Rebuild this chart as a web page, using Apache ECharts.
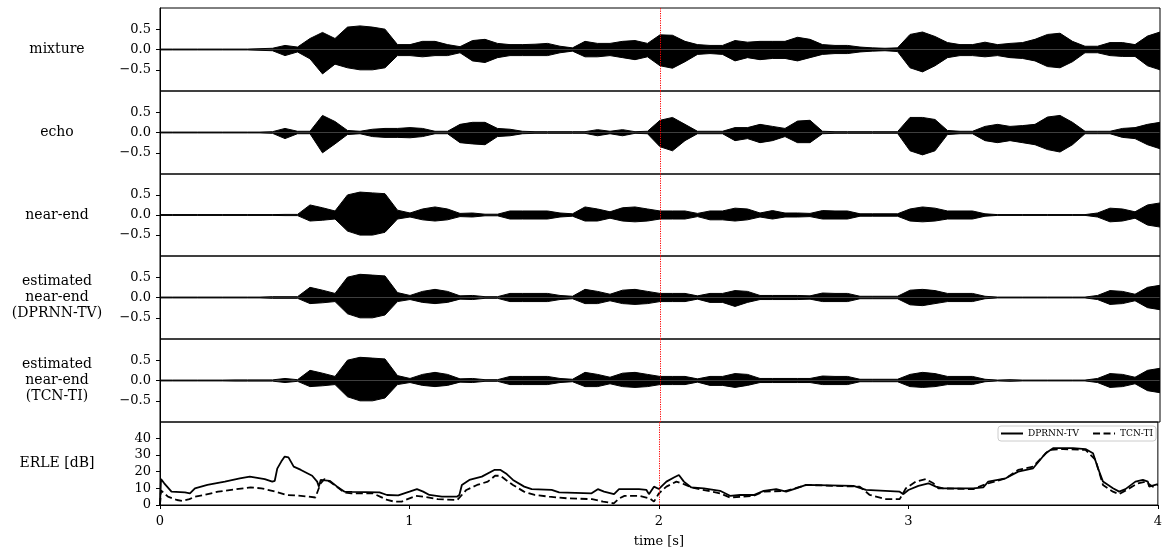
<!DOCTYPE html>
<html><head><meta charset="utf-8">
<script src="https://cdn.jsdelivr.net/npm/echarts@6/dist/echarts.min.js"></script>
<style>html,body{margin:0;padding:0;background:#fff}#c{width:1165px;height:551px}</style>
</head><body><div id="c"></div>
<script>
// envelope sample spacing [s]; envelopes at t = 0, 0.05, ..., 4.00
const DT = 0.05;
const panelLabels = ['mixture', 'echo', 'near-end', 'estimated\nnear-end\n(DPRNN-TV)', 'estimated\nnear-end\n(TCN-TI)', 'ERLE [dB]'];
const xTicks = [0, 1, 2, 3, 4];
const waveTicks = [-0.5, 0, 0.5];
const erleTicks = [0, 10, 20, 30, 40];
const markerTime = 2;

const mixTop = [0.01,0.01,0.01,0.01,0.01,0.01,0.01,0.01,0.02,0.03,0.1,0.06,0.27,0.42,0.27,0.55,0.58,0.55,0.5,0.12,0.12,0.2,0.2,0.12,0.07,0.22,0.25,0.15,0.12,0.12,0.13,0.15,0.08,0.04,0.2,0.15,0.15,0.2,0.22,0.15,0.36,0.35,0.2,0.12,0.1,0.1,0.22,0.18,0.2,0.2,0.2,0.3,0.25,0.12,0.1,0.1,0.06,0.04,0.03,0.04,0.37,0.43,0.32,0.17,0.12,0.12,0.18,0.12,0.15,0.17,0.25,0.37,0.4,0.2,0.08,0.08,0.17,0.17,0.12,0.33,0.43];
const mixBot = [-0.01,-0.01,-0.01,-0.01,-0.01,-0.01,-0.01,-0.01,-0.02,-0.03,-0.15,-0.06,-0.23,-0.6,-0.36,-0.45,-0.5,-0.5,-0.45,-0.15,-0.15,-0.18,-0.15,-0.15,-0.08,-0.28,-0.32,-0.2,-0.15,-0.15,-0.15,-0.15,-0.08,-0.04,-0.18,-0.18,-0.15,-0.2,-0.25,-0.18,-0.4,-0.46,-0.3,-0.12,-0.1,-0.12,-0.28,-0.2,-0.25,-0.22,-0.22,-0.28,-0.2,-0.12,-0.1,-0.1,-0.06,-0.04,-0.03,-0.05,-0.45,-0.55,-0.4,-0.2,-0.15,-0.15,-0.18,-0.15,-0.2,-0.22,-0.28,-0.42,-0.45,-0.3,-0.08,-0.08,-0.15,-0.17,-0.17,-0.4,-0.5];

const echoTop = [0.01,0.01,0.01,0.01,0.01,0.01,0.01,0.01,0.01,0.02,0.1,0.03,0.03,0.42,0.27,0.05,0.03,0.08,0.1,0.1,0.12,0.1,0.03,0.03,0.2,0.25,0.25,0.1,0.08,0.03,0.02,0.02,0.02,0.02,0.02,0.07,0.03,0.07,0.02,0.03,0.3,0.37,0.2,0.03,0.03,0.03,0.12,0.12,0.2,0.15,0.1,0.28,0.3,0.03,0.02,0.02,0.02,0.02,0.02,0.02,0.37,0.37,0.32,0.05,0.03,0.03,0.15,0.2,0.15,0.17,0.2,0.38,0.42,0.25,0.03,0.03,0.03,0.1,0.12,0.2,0.25];
const echoBot = [-0.01,-0.01,-0.01,-0.01,-0.01,-0.01,-0.01,-0.01,-0.01,-0.02,-0.15,-0.03,-0.03,-0.5,-0.28,-0.05,-0.03,-0.1,-0.12,-0.12,-0.13,-0.1,-0.03,-0.03,-0.25,-0.28,-0.3,-0.1,-0.08,-0.03,-0.02,-0.02,-0.02,-0.02,-0.02,-0.08,-0.03,-0.08,-0.02,-0.03,-0.35,-0.45,-0.2,-0.03,-0.03,-0.03,-0.2,-0.15,-0.25,-0.2,-0.1,-0.25,-0.25,-0.03,-0.02,-0.02,-0.02,-0.02,-0.02,-0.02,-0.45,-0.55,-0.45,-0.05,-0.03,-0.03,-0.2,-0.25,-0.2,-0.25,-0.3,-0.42,-0.48,-0.3,-0.03,-0.03,-0.03,-0.12,-0.15,-0.3,-0.4];

const nearTop = [0.01,0.01,0.01,0.01,0.01,0.01,0.01,0.01,0.01,0.01,0.015,0.015,0.25,0.18,0.1,0.5,0.57,0.55,0.53,0.12,0.05,0.15,0.2,0.15,0.04,0.05,0.02,0.02,0.1,0.1,0.1,0.1,0.05,0.03,0.2,0.15,0.08,0.18,0.2,0.15,0.1,0.1,0.1,0.04,0.1,0.1,0.17,0.15,0.05,0.11,0.05,0.05,0.04,0.11,0.1,0.1,0.03,0.03,0.03,0.03,0.15,0.2,0.17,0.1,0.1,0.1,0.03,0.01,0.01,0.01,0.01,0.01,0.01,0.01,0.01,0.05,0.17,0.15,0.08,0.25,0.3];
const nearBot = [-0.01,-0.01,-0.01,-0.01,-0.01,-0.01,-0.01,-0.01,-0.01,-0.01,-0.015,-0.015,-0.15,-0.13,-0.1,-0.4,-0.5,-0.5,-0.43,-0.1,-0.05,-0.12,-0.15,-0.12,-0.04,-0.05,-0.02,-0.02,-0.1,-0.1,-0.1,-0.1,-0.05,-0.03,-0.15,-0.15,-0.08,-0.15,-0.17,-0.15,-0.1,-0.1,-0.1,-0.04,-0.12,-0.12,-0.15,-0.12,-0.05,-0.1,-0.05,-0.05,-0.04,-0.1,-0.1,-0.1,-0.03,-0.03,-0.03,-0.03,-0.15,-0.17,-0.15,-0.1,-0.1,-0.1,-0.03,-0.01,-0.01,-0.01,-0.01,-0.01,-0.01,-0.01,-0.01,-0.05,-0.17,-0.15,-0.08,-0.25,-0.3];

const dprnnTop = [0.01,0.01,0.01,0.01,0.01,0.01,0.01,0.01,0.01,0.02,0.02,0.02,0.25,0.18,0.1,0.5,0.57,0.55,0.53,0.12,0.05,0.15,0.2,0.15,0.04,0.05,0.02,0.02,0.1,0.1,0.1,0.1,0.05,0.03,0.2,0.15,0.08,0.18,0.2,0.15,0.1,0.1,0.1,0.04,0.1,0.1,0.17,0.15,0.05,0.05,0.05,0.05,0.04,0.11,0.1,0.1,0.03,0.03,0.03,0.03,0.18,0.2,0.17,0.1,0.1,0.1,0.03,0.01,0.01,0.01,0.01,0.01,0.01,0.01,0.01,0.05,0.17,0.15,0.08,0.25,0.3];
const dprnnBot = [-0.01,-0.01,-0.01,-0.01,-0.01,-0.01,-0.01,-0.01,-0.01,-0.02,-0.02,-0.02,-0.15,-0.13,-0.1,-0.4,-0.5,-0.5,-0.43,-0.1,-0.05,-0.12,-0.15,-0.12,-0.04,-0.05,-0.02,-0.02,-0.1,-0.1,-0.1,-0.1,-0.05,-0.03,-0.15,-0.15,-0.08,-0.15,-0.17,-0.15,-0.1,-0.1,-0.1,-0.04,-0.12,-0.12,-0.22,-0.12,-0.05,-0.05,-0.05,-0.05,-0.04,-0.1,-0.1,-0.1,-0.03,-0.03,-0.03,-0.03,-0.18,-0.2,-0.15,-0.1,-0.1,-0.1,-0.03,-0.01,-0.01,-0.01,-0.01,-0.01,-0.01,-0.01,-0.01,-0.05,-0.17,-0.15,-0.08,-0.25,-0.3];

const tcnTop = [0.01,0.01,0.01,0.01,0.01,0.01,0.015,0.015,0.015,0.015,0.05,0.02,0.25,0.18,0.1,0.5,0.57,0.55,0.53,0.12,0.05,0.15,0.2,0.15,0.04,0.05,0.02,0.02,0.1,0.1,0.1,0.1,0.05,0.03,0.2,0.15,0.08,0.18,0.2,0.15,0.1,0.1,0.1,0.04,0.1,0.1,0.17,0.15,0.05,0.05,0.05,0.05,0.05,0.11,0.1,0.1,0.03,0.03,0.03,0.03,0.15,0.2,0.17,0.1,0.1,0.1,0.03,0.01,0.02,0.01,0.01,0.01,0.01,0.01,0.01,0.05,0.17,0.15,0.08,0.25,0.3];
const tcnBot = [-0.01,-0.01,-0.01,-0.01,-0.01,-0.01,-0.015,-0.015,-0.015,-0.015,-0.05,-0.02,-0.15,-0.13,-0.1,-0.4,-0.5,-0.5,-0.43,-0.1,-0.05,-0.12,-0.15,-0.12,-0.04,-0.05,-0.02,-0.02,-0.1,-0.1,-0.1,-0.1,-0.05,-0.03,-0.15,-0.15,-0.08,-0.15,-0.17,-0.15,-0.1,-0.1,-0.1,-0.04,-0.12,-0.12,-0.17,-0.12,-0.05,-0.05,-0.05,-0.05,-0.05,-0.1,-0.1,-0.1,-0.03,-0.03,-0.03,-0.03,-0.15,-0.17,-0.15,-0.1,-0.1,-0.1,-0.03,-0.01,-0.02,-0.01,-0.01,-0.01,-0.01,-0.01,-0.01,-0.05,-0.17,-0.15,-0.08,-0.25,-0.3];

// ERLE curves as [time s, ERLE dB]
const erleDprnn = [[0,0],[0.004,15.5],[0.017,13],[0.046,8],[0.10,7.5],[0.12,7],[0.14,10],[0.19,12],[0.26,14],[0.32,16],[0.36,17],[0.42,15.5],[0.45,14],[0.46,14.5],[0.47,21.8],[0.486,26],[0.50,29],[0.515,28.5],[0.536,23],[0.565,21],[0.61,17.5],[0.63,14],[0.637,11],[0.644,15],[0.68,14.5],[0.71,11],[0.74,8],[0.77,7.8],[0.88,7.5],[0.91,6],[0.955,5.8],[1.0,8],[1.03,9.5],[1.055,8],[1.08,6],[1.13,5],[1.19,5],[1.20,6],[1.21,12],[1.24,15],[1.29,17],[1.34,21],[1.365,21],[1.39,18.5],[1.415,15],[1.46,11],[1.49,9.5],[1.57,9],[1.6,7.5],[1.73,7],[1.755,9.5],[1.78,8],[1.82,6.5],[1.84,9.5],[1.92,9.5],[1.95,9],[1.96,6.5],[1.98,11],[2.0,9.6],[2.03,14],[2.06,16.5],[2.08,18],[2.1,14],[2.13,10.5],[2.18,10],[2.245,8.5],[2.285,5.5],[2.325,6],[2.38,6],[2.42,8.5],[2.47,9.5],[2.51,8],[2.55,10],[2.59,12],[2.78,11.5],[2.83,9],[2.965,8],[2.98,6.5],[3.0,9],[3.04,11.5],[3.08,13],[3.11,11],[3.14,10],[3.26,10],[3.3,10.5],[3.32,14],[3.39,16],[3.44,20],[3.5,22],[3.55,31],[3.58,34],[3.66,34],[3.71,33.5],[3.74,31],[3.76,22],[3.78,14],[3.82,10],[3.845,8],[3.87,9.5],[3.91,14],[3.94,15],[3.96,14],[3.965,11],[4.0,12.5]];
const erleTcn = [[0,0],[0.004,8.7],[0.032,5],[0.068,3],[0.089,2.5],[0.118,3.5],[0.14,5],[0.176,6],[0.233,8],[0.334,10],[0.363,10.5],[0.406,10],[0.464,8],[0.507,6],[0.565,5.5],[0.623,4.5],[0.63,5],[0.644,13],[0.659,15.5],[0.68,14],[0.709,11],[0.738,7.5],[0.767,7],[0.853,7],[0.882,5],[0.911,3],[0.94,2],[0.969,2],[0.983,3],[1.026,5.5],[1.055,5],[1.113,3.5],[1.192,3],[1.199,4],[1.228,9],[1.271,12],[1.314,14],[1.343,17.5],[1.365,17.5],[1.387,15],[1.415,12],[1.459,8],[1.502,6],[1.56,5],[1.632,4],[1.732,3.5],[1.776,2],[1.819,1],[1.841,4],[1.862,5.5],[1.92,5.5],[1.963,4],[1.98,2],[2.0,7],[2.03,11],[2.07,14],[2.1,12.5],[2.13,10.5],[2.245,7],[2.285,4.5],[2.38,5.5],[2.42,8],[2.51,8.5],[2.59,12],[2.805,11],[2.845,6],[2.91,3.5],[2.965,3.5],[2.99,10],[3.03,14],[3.07,15.5],[3.1,13],[3.12,10],[3.26,9.5],[3.31,12.5],[3.39,16],[3.44,21],[3.5,23],[3.565,33],[3.62,33.5],[3.71,33],[3.75,27],[3.78,12],[3.82,8],[3.845,6.5],[3.88,9.5],[3.92,13],[3.95,14],[3.98,11],[4.0,12]];

const waves = [[mixTop, mixBot], [echoTop, echoBot], [nearTop, nearBot], [dprnnTop, dprnnBot], [tcnTop, tcnBot]];

const FONT = 'DejaVu Serif';
const chart = echarts.init(document.getElementById('c'), null, {renderer: 'canvas'});
const gridTops = [8, 91, 174, 256, 339, 422];
const gridHeights = [83, 83, 82, 83, 83, 83];
const grids = [], xAxes = [], yAxes = [], series = [];
const fmtMinus = v => (v < 0 ? '\u2212' : '') + Math.abs(v).toFixed(1);
const makeMarkLine = () => ({
  silent: true, symbol: ['none', 'none'], label: {show: false},
  lineStyle: {color: '#ff0000', type: [1.2, 1.2], width: 1, opacity: 1},
  emphasis: {disabled: true},
  data: [{xAxis: markerTime}]
});
for (let i = 0; i < 6; i++) {
  grids.push({left: 160, width: 1000, top: gridTops[i], height: gridHeights[i], show: true,
    borderColor: '#000', borderWidth: 1, backgroundColor: 'transparent'});
  const last = i === 5;
  xAxes.push({type: 'value', gridIndex: i, min: 0, max: 4, interval: 1,
    axisLine: {show: last, lineStyle: {color: '#000', width: 1}},
    axisTick: {show: last, inside: false, length: 4, lineStyle: {color: '#000'}},
    axisLabel: {show: last, margin: 10, color: '#000', fontFamily: FONT, fontSize: 13},
    splitLine: {show: false},
    name: last ? 'time [s]' : '', nameLocation: 'middle', nameGap: 30,
    nameTextStyle: {fontFamily: FONT, fontSize: 13, color: '#000'}});
  const isErle = i === 5;
  yAxes.push({type: 'value', gridIndex: i,
    min: isErle ? 0 : -1.02, max: isErle ? 49.7 : 1.02,
    axisLine: {show: true, lineStyle: {color: '#000', width: 1}},
    axisTick: {show: true, inside: false, length: 4, lineStyle: {color: '#000'},
      customValues: isErle ? erleTicks : waveTicks},
    axisLabel: {show: true, margin: 9, color: '#000', fontFamily: FONT, fontSize: 13,
      customValues: isErle ? erleTicks : waveTicks,
      formatter: isErle ? (v => String(v)) : fmtMinus},
    splitLine: {show: false},
    name: panelLabels[i], nameLocation: 'middle', nameRotate: 0, nameGap: 103,
    nameTextStyle: {fontFamily: FONT, fontSize: 14, color: '#000', align: 'center',
      verticalAlign: 'middle', lineHeight: 16}});
}
waves.forEach((pair, i) => {
  pair.forEach((arr, k) => {
    const s = {
      type: 'line', name: 'wave' + i + '_' + k, xAxisIndex: i, yAxisIndex: i,
      data: arr.map((v, j) => [j * DT, v]),
      symbol: 'none', animation: false, silent: true,
      lineStyle: {color: '#000', width: 1},
      areaStyle: {color: '#000', opacity: 1},
      z: 2
    };
    if (k === 0) s.markLine = makeMarkLine();
    series.push(s);
  });
});
series.push({type: 'line', name: 'DPRNN-TV', xAxisIndex: 5, yAxisIndex: 5, data: erleDprnn,
  symbol: 'none', animation: false, lineStyle: {color: '#000', width: 1.8, type: 'solid'},
  itemStyle: {color: '#000'}, z: 3});
series.push({type: 'line', name: 'TCN-TI', xAxisIndex: 5, yAxisIndex: 5, data: erleTcn,
  symbol: 'none', animation: false, lineStyle: {color: '#000', width: 1.8, type: [7, 3.5]},
  itemStyle: {color: '#000'}, z: 3});
// red marker line in the ERLE panel (own series so its colour is not tied to the curves)
series.push({type: 'line', name: 'marker', xAxisIndex: 5, yAxisIndex: 5, data: [],
  symbol: 'none', animation: false, silent: true, markLine: makeMarkLine(), z: 4});

chart.setOption({
  backgroundColor: '#fff',
  animation: false,
  grid: grids, xAxis: xAxes, yAxis: yAxes, series: series,
  legend: {data: ['DPRNN-TV', 'TCN-TI'], left: 998, top: 426, orient: 'horizontal',
    itemWidth: 22, itemHeight: 8, itemGap: 13, padding: [3, 3, 3, 2],
    itemStyle: {color: 'transparent', borderColor: 'transparent', borderWidth: 0, opacity: 0},
    borderColor: '#cccccc', borderWidth: 1, borderRadius: 3, backgroundColor: '#fff',
    textStyle: {fontFamily: FONT, fontSize: 9, color: '#000'}}
});
</script></body></html>
